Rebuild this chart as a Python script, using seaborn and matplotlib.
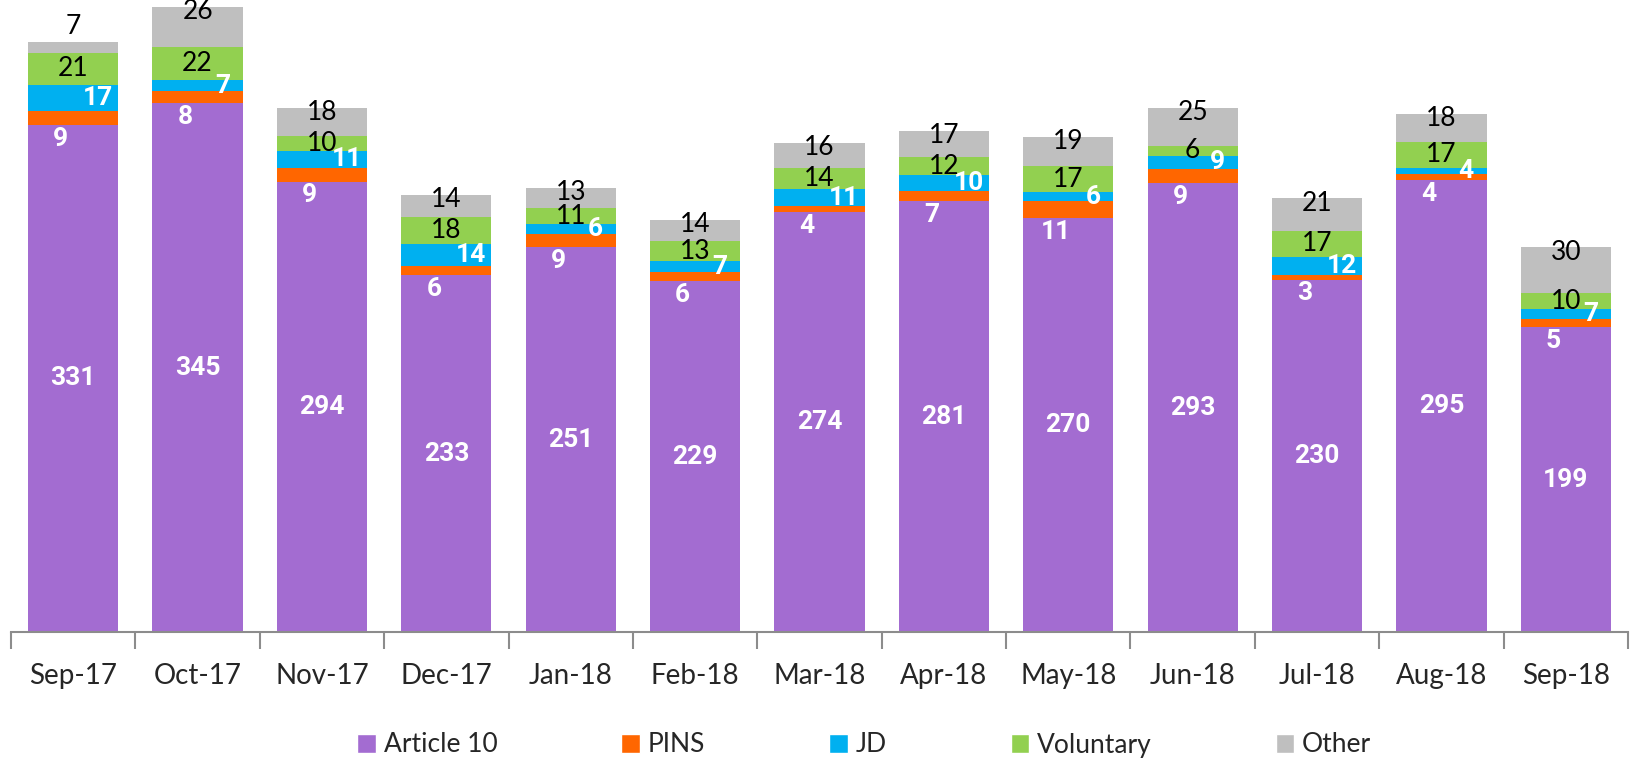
import numpy as np
import pandas as pd
import seaborn as sns
import matplotlib.pyplot as plt
from matplotlib.patches import Patch

months = ['Sep-17', 'Oct-17', 'Nov-17', 'Dec-17', 'Jan-18', 'Feb-18', 'Mar-18',
          'Apr-18', 'May-18', 'Jun-18', 'Jul-18', 'Aug-18', 'Sep-18']
article10 = [331, 345, 294, 233, 251, 229, 274, 281, 270, 293, 230, 295, 199]
pins = [9, 8, 9, 6, 9, 6, 4, 7, 11, 9, 3, 4, 5]
jd = [17, 7, 11, 14, 6, 7, 11, 10, 6, 9, 12, 4, 7]
voluntary = [21, 22, 10, 18, 11, 13, 14, 12, 17, 6, 17, 17, 10]
other = [7, 26, 18, 14, 13, 14, 16, 17, 19, 25, 21, 18, 30]

series_names = ['Article 10', 'PINS', 'JD', 'Voluntary', 'Other']
colors = ['#A36CD1', '#FF6600', '#00B0F0', '#92D050', '#BFBFBF']

sns.set_style('white')
plt.rcParams['font.family'] = ['Lato', 'DejaVu Sans']
bold_font = ['Roboto', 'DejaVu Sans']

vals = np.array([article10, pins, jd, voluntary, other], dtype=float)
cum = vals.cumsum(axis=0)

fig = plt.figure(figsize=(16.4, 7.6), dpi=100)
ax = fig.add_axes([11 / 1640, 1 - 632 / 760, 1617 / 1640, 632 / 760])

# draw cumulative totals from top layer down so the stack shows
for i in range(len(series_names) - 1, -1, -1):
    df = pd.DataFrame({'month': months, 'value': cum[i]})
    sns.barplot(data=df, x='month', y='value', color=colors[i], saturation=1,
                width=0.725, ax=ax, linewidth=0)

fs = 20
fsl = 19
for j in range(len(months)):
    tops = cum[:, j]
    bots = tops - vals[:, j]
    # Article 10
    ax.text(j, (bots[0] + tops[0]) / 2, '%d' % vals[0, j], ha='center', va='center',
            color='white', fontweight='bold', fontsize=fsl, family=bold_font)
    # PINS - just under the orange block
    ax.text(j - 0.1, bots[1] - 9, '%d' % vals[1, j], ha='center', va='center',
            color='white', fontweight='bold', fontsize=fsl, family=bold_font)
    # JD - right side
    ax.text(j + 0.2, (bots[2] + tops[2]) / 2, '%d' % vals[2, j], ha='center', va='center',
            color='white', fontweight='bold', fontsize=fsl, family=bold_font)
    # Voluntary
    ax.text(j, (bots[3] + tops[3]) / 2, '%d' % vals[3, j], ha='center', va='center',
            color='black', fontsize=fsl)
    # Other
    y_other = tops[4] + 10 if vals[4, j] < 10 else tops[4] - 3
    ax.text(j, y_other, '%d' % vals[4, j], ha='center', va='center',
            color='black', fontsize=fsl)

ax.set_xlim(-0.5, len(months) - 0.5)
ax.set_ylim(0, 412.5)
ax.set_yticks([])
ax.set_xlabel('')
ax.set_ylabel('')
for s in ['top', 'right', 'left']:
    ax.spines[s].set_visible(False)
ax.spines['bottom'].set_color('#8C8C8C')
ax.spines['bottom'].set_linewidth(1.5)

ax.set_xticks(np.arange(len(months)))
ax.set_xticklabels(months, fontsize=fs)
ax.tick_params(axis='x', which='major', length=0, pad=22)
ax.set_xticks(np.arange(-0.5, len(months)), minor=True)
ax.tick_params(axis='x', which='minor', length=12, width=1.5, color='#8C8C8C', bottom=True)

handles = [Patch(facecolor=c, label=n) for c, n in zip(colors, series_names)]
fig.legend(handles=handles, loc='center', bbox_to_anchor=(0.527, 1 - 745 / 760), ncol=5,
           frameon=False, fontsize=fs - 1, handlelength=0.7, handleheight=0.7,
           handletextpad=0.3, columnspacing=4.7)

fig.savefig('out.png', dpi=100)
